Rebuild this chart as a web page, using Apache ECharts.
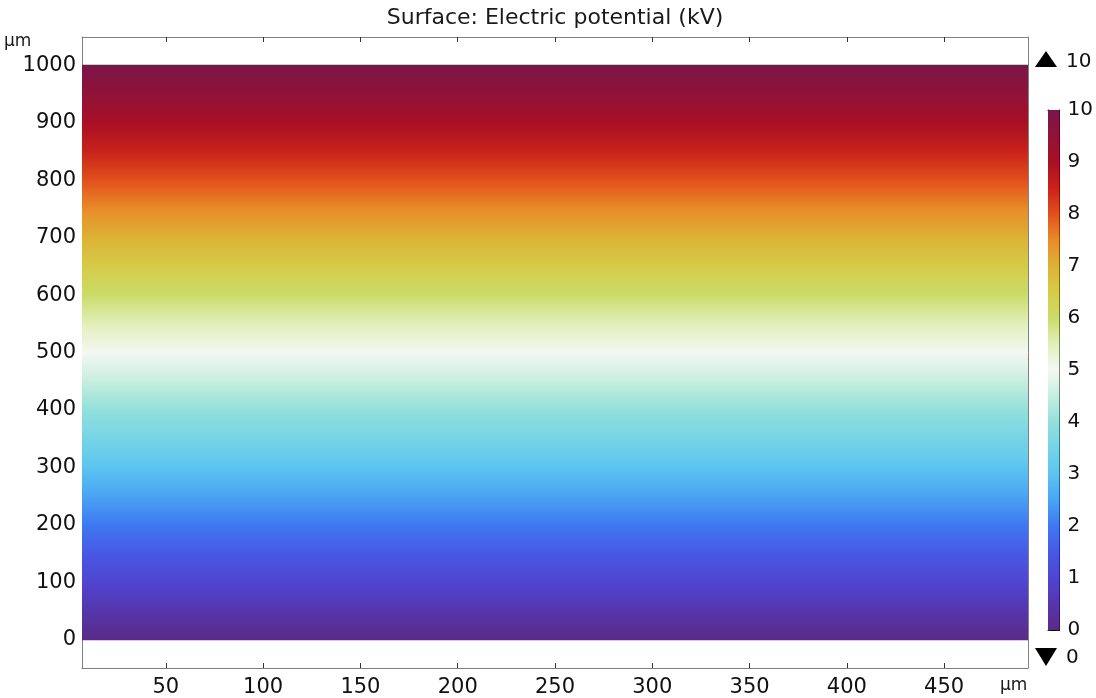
<!DOCTYPE html>
<html><head><meta charset="utf-8">
<script src="https://cdn.jsdelivr.net/npm/echarts@6/dist/echarts.min.js"></script>
<style>html,body{margin:0;padding:0;background:#fff}#c{width:1096px;height:698px}</style>
</head><body><div id="c"></div>
<script>
// ---- data ----
const yPositionsUm = [0,50,100,150,200,250,300,350,400,450,500,550,600,650,700,750,800,850,900,950,1000];
const potentialKV  = [0,0.5,1,1.5,2,2.5,3,3.5,4,4.5,5,5.5,6,6.5,7,7.5,8,8.5,9,9.5,10];
const xDomainUm = [0, 500];
const xTickLabels = [50,100,150,200,250,300,350,400,450];
const yTickLabels = [0,100,200,300,400,500,600,700,800,900,1000];
const colorbarTicks = [0,1,2,3,4,5,6,7,8,9,10];
const rangeMinKV = 0, rangeMaxKV = 10;
const titleText = 'Surface: Electric potential (kV)';
const unitText = 'μm';

// ---- style ----
const X_MIN = 6.9, X_MAX = 493.1, Y_MIN = -49.2, Y_MAX = 1049.2;
const colormap = ['#5b2a86','#5636ab','#4f45d0','#4858e4','#3f78f2','#4aa4f4','#5cc4f0','#76d4e6','#92e0dc','#c6eede','#f3f8f3',
                  '#e2efbb','#cadc6a','#d6cb48','#dcb236','#e88c28','#e2501c','#c8221a','#a90f24','#911238','#7b1548'];
function colorOf(v){
  const t = (v - rangeMinKV) / (rangeMaxKV - rangeMinKV) * (colormap.length - 1);
  const i = Math.max(0, Math.min(colormap.length - 2, Math.floor(t)));
  const f = Math.max(0, Math.min(1, t - i));
  const a = echarts.color.parse(colormap[i]), b = echarts.color.parse(colormap[i+1]);
  return 'rgb(' + [0,1,2].map(k => Math.round(a[k] + (b[k]-a[k])*f)).join(',') + ')';
}
const FONT = 'DejaVu Sans';
const frameColor = '#808080', tickColor = '#333';

const chart = echarts.init(document.getElementById('c'), null, {renderer:'canvas'});

function frameAxis(pos, isX, labels, showLabels){
  return {
    gridIndex:0, type:'value', position:pos,
    min: isX ? X_MIN : Y_MIN, max: isX ? X_MAX : Y_MAX,
    axisLine:{show:true, onZero:false, lineStyle:{color:frameColor, width:1}},
    axisTick:{show:true, inside:true, length:5, customValues:labels, lineStyle:{color:tickColor, width:1}},
    axisLabel:{show:showLabels, customValues:labels, formatter:v => String(v), fontSize:21, fontFamily:FONT, color:'#111',
               margin: isX ? 9 : 6, padding: isX ? 0 : [4,0,0,0]},
    splitLine:{show:false}
  };
}

function surfaceStrip(params, api){
  const i = params.dataIndex;
  if (i >= yPositionsUm.length - 1) return;
  const p0 = api.coord([xDomainUm[0], yPositionsUm[i]]);
  const p1 = api.coord([xDomainUm[1], yPositionsUm[i+1]]);
  const cs = params.coordSys;
  const left = Math.max(p0[0], cs.x), right = Math.min(p1[0], cs.x + cs.width);
  return {
    type:'rect',
    shape:{x:left, y:p1[1]-0.5, width:right-left, height:p0[1]-p1[1]+1},
    style:{fill:new echarts.graphic.LinearGradient(0,0,0,1,[
      {offset:0, color:colorOf(potentialKV[i+1])},
      {offset:1, color:colorOf(potentialKV[i])}
    ])}
  };
}

function colorbarRect(params, api){
  if (params.dataIndex !== 0) return;
  const p0 = api.coord([0, rangeMinKV]);
  const p1 = api.coord([1, rangeMaxKV]);
  const stops = [];
  const n = 40;
  for (let k = 0; k <= n; k++){
    const v = rangeMaxKV - (rangeMaxKV - rangeMinKV) * k / n;
    stops.push({offset:k/n, color:colorOf(v)});
  }
  return {
    type:'rect',
    shape:{x:p0[0], y:p1[1], width:p1[0]-p0[0], height:p0[1]-p1[1]},
    style:{fill:new echarts.graphic.LinearGradient(0,0,0,1,stops)}
  };
}

function cbY(pos, showLabels){
  return {
    gridIndex:1, type:'value', position:pos, min:rangeMinKV, max:rangeMaxKV, interval:1,
    axisLine:{show:true, onZero:false, lineStyle:{color:'#000', width:1}},
    axisTick:{show:true, inside:true, length:3, customValues:colorbarTicks, lineStyle:{color:'#222'}},
    axisLabel:{show:showLabels, customValues:colorbarTicks, fontSize:20, fontFamily:FONT, color:'#111', margin:8, padding:[3,0,0,0]},
    splitLine:{show:false}
  };
}
function cbX(pos){
  return {
    gridIndex:1, type:'value', position:pos, min:0, max:1,
    axisLine:{show:true, onZero:false, lineStyle:{color:'#000', width:1}},
    axisTick:{show:false}, axisLabel:{show:false}, splitLine:{show:false}
  };
}

const option = {
  backgroundColor:'#fff',
  animation:false,
  grid:[
    {left:82, right:68, top:37, bottom:30, containLabel:false},
    {left:1048, width:13, top:110, height:520, containLabel:false}
  ],
  xAxis:[frameAxis('bottom', true, xTickLabels, true), frameAxis('top', true, xTickLabels, false), cbX('bottom'), cbX('top')],
  yAxis:[frameAxis('left', false, yTickLabels, true), frameAxis('right', false, yTickLabels, false), cbY('left', false), cbY('right', true)],
  series:[
    {type:'custom', xAxisIndex:0, yAxisIndex:0, renderItem:surfaceStrip,
     data:yPositionsUm.map((y,i)=>[y, potentialKV[i]]), encode:{x:-1, y:0}, silent:true, z:1},
    {type:'custom', xAxisIndex:2, yAxisIndex:2, renderItem:colorbarRect,
     data:[[0, rangeMinKV],[1, rangeMaxKV]], silent:true, z:1}
  ],
  graphic:[
    {type:'text', x:555, y:18, style:{text:titleText, fontSize:22, fontFamily:FONT, fill:'#1a1a1a', align:'center', verticalAlign:'middle'}},
    {type:'text', x:4, y:42, style:{text:unitText, fontSize:17, fontFamily:FONT, fill:'#1a1a1a', align:'left', verticalAlign:'middle'}},
    {type:'text', x:1000, y:686, style:{text:unitText, fontSize:17, fontFamily:FONT, fill:'#1a1a1a', align:'left', verticalAlign:'middle'}},
    {type:'polygon', shape:{points:[[1035,67],[1046,51],[1057,67]]}, style:{fill:'#000'}},
    {type:'polygon', shape:{points:[[1035,648],[1057,648],[1046,666]]}, style:{fill:'#000'}},
    {type:'text', x:1066, y:62, style:{text:String(rangeMaxKV), fontSize:20, fontFamily:FONT, fill:'#111', align:'left', verticalAlign:'middle'}},
    {type:'text', x:1066, y:658, style:{text:String(rangeMinKV), fontSize:20, fontFamily:FONT, fill:'#111', align:'left', verticalAlign:'middle'}}
  ]
};
chart.setOption(option);
</script>
</body></html>
